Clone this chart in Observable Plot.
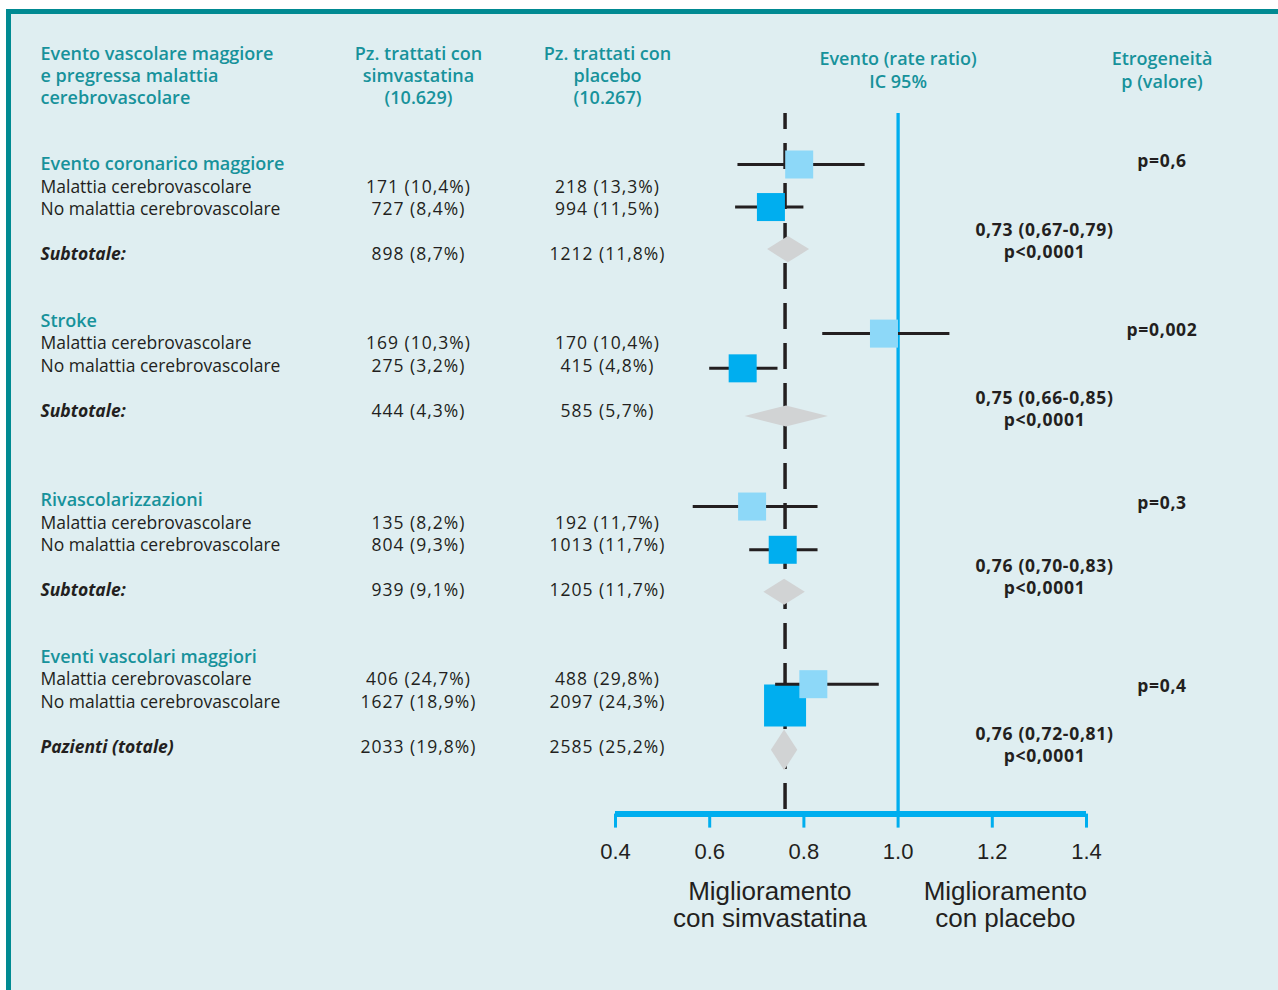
<!DOCTYPE html>
<html>
<head>
<meta charset="utf-8">
<script src="https://cdn.jsdelivr.net/npm/d3@7"></script>
<script src="https://cdn.jsdelivr.net/npm/@observablehq/plot@0.6"></script>
<style>
  html, body { margin: 0; padding: 0; background: #ffffff; }
  #frame { position: absolute; left: 6px; top: 9px; width: 1272px; height: 981px; box-sizing: border-box;
           border-left: 5px solid #008A92; border-top: 5px solid #008A92; background: #DFEEF1; }
  #chart { position: absolute; left: 0; top: 0; }
</style>
</head>
<body>
<div id="frame"></div>
<div id="chart"></div>
<script>
// ---------- DATA ----------
const groups = ["Evento coronarico maggiore", "Stroke", "Rivascolarizzazioni", "Eventi vascolari maggiori"];
const groupRow = [0, 7, 15, 22];
const subgroups = ["Malattia cerebrovascolare", "No malattia cerebrovascolare"];
const totalLabels = ["Subtotale:", "Subtotale:", "Subtotale:", "Pazienti (totale)"];

const simvaN   = [[171, 727, 898], [169, 275, 444], [135, 804, 939], [406, 1627, 2033]];
const simvaPct = [[10.4, 8.4, 8.7], [10.3, 3.2, 4.3], [8.2, 9.3, 9.1], [24.7, 18.9, 19.8]];
const placeboN   = [[218, 994, 1212], [170, 415, 585], [192, 1013, 1205], [488, 2097, 2585]];
const placeboPct = [[13.3, 11.5, 11.8], [10.4, 4.8, 5.7], [11.7, 11.7, 11.7], [29.8, 24.3, 25.2]];

// subgroup rate ratios as drawn (estimate, CI low, CI high), row of marker, relative box weight
const subRR = [[0.79, 0.73], [0.97, 0.67], [0.69, 0.755], [0.82, 0.76]];
const subLo = [[0.66, 0.655], [0.84, 0.60], [0.565, 0.685], [0.74, 0.73]];
const subHi = [[0.93, 0.80], [1.11, 0.745], [0.83, 0.83], [0.96, 0.79]];
const subMarkerRow = [[0, 1.9], [7.55, 9.1], [15.27, 17.2], [23.2, 24.15]];
const subWeight = [[1, 1], [1, 1], [1, 1], [1, 1.5]];

// pooled diamonds as drawn
const pooledRR = [0.767, 0.763, 0.759, 0.759];
const pooledLo = [0.723, 0.675, 0.715, 0.731];
const pooledHi = [0.812, 0.852, 0.803, 0.787];
const pooledRow = [3.8, 11.25, 19.1, 26.15];

// reported statistics
const statRR = [0.73, 0.75, 0.76, 0.76];
const statLo = [0.67, 0.66, 0.70, 0.72];
const statHi = [0.79, 0.85, 0.83, 0.81];
const statP = ["p<0,0001", "p<0,0001", "p<0,0001", "p<0,0001"];
const statRow = [3.39, 10.85, 18.39, 25.85];
const hetP = ["p=0,6", "p=0,002", "p=0,3", "p=0,4"];
const hetRow = [-0.13, 7.41, 15.13, 23.3];

const xTicks = [0.4, 0.6, 0.8, 1.0, 1.2, 1.4];
const overallRR = 0.76;
const axisRow = 29;
const refTopRow = -2.28;

const headers = {
  event: "Evento vascolare maggiore\ne pregressa malattia\ncerebrovascolare",
  simva: "Pz. trattati con\nsimvastatina\n(10.629)",
  placebo: "Pz. trattati con\nplacebo\n(10.267)",
  rr: "Evento (rate ratio)\nIC 95%",
  het: "Etrogeneità\np (valore)"
};
const improveLabels = ["Miglioramento\ncon simvastatina", "Miglioramento\ncon placebo"];

// ---------- STYLE ----------
const teal = "#17929B", ink = "#231F20", blue = "#00AEEF", lightBlue = "#8DD8F8", grey = "#D1D3D4";
const font = "'Open Sans', 'Noto Sans', sans-serif";
const fs = 17.5, fsHead = 18;
const diamondHalf = [0.59, 0.47, 0.58, 0.91];

// ---------- BUILD ----------
const dec = (v, n) => v.toFixed(n).replace(".", ",");
const titleRows = [], subRows = [], totalRows = [], countRows = [], pts = [], diamond = [], stats = [], het = [];
groups.forEach((g, gi) => {
  const r0 = groupRow[gi];
  titleRows.push({row: r0, text: g});
  [r0 + 1, r0 + 2, r0 + 4].forEach((row, k) => {
    if (k < 2) subRows.push({row, text: subgroups[k]});
    else totalRows.push({row, text: totalLabels[gi]});
    countRows.push({
      row,
      simva: `${simvaN[gi][k]} (${dec(simvaPct[gi][k], 1)}%)`,
      placebo: `${placeboN[gi][k]} (${dec(placeboPct[gi][k], 1)}%)`
    });
  });
  subgroups.forEach((s, si) => pts.push({
    s, rr: subRR[gi][si], lo: subLo[gi][si], hi: subHi[gi][si], row: subMarkerRow[gi][si], w: subWeight[gi][si]
  }));
  const h = diamondHalf[gi], row = pooledRow[gi];
  diamond.push({g: gi, x: pooledLo[gi], y1: row, y2: row});
  diamond.push({g: gi, x: pooledRR[gi], y1: row - h, y2: row + h});
  diamond.push({g: gi, x: pooledHi[gi], y1: row, y2: row});
  stats.push({row: statRow[gi], text: `${dec(statRR[gi], 2)} (${dec(statLo[gi], 2)}-${dec(statHi[gi], 2)})\n${statP[gi]}`});
  het.push({row: hetRow[gi], text: hetP[gi]});
});
const darkPts = pts.filter(d => d.s === subgroups[1]);
const lightPts = pts.filter(d => d.s === subgroups[0]);

const W = 1278, H = 990, mL = 615, mR = 192, mT = 52, mB = 176.4;
const txt = {fontFamily: font, fontSize: fs, lineAnchor: "middle"};
const head = {fontFamily: font, fontSize: fsHead, lineAnchor: "middle", fill: teal, fontWeight: 600};

const chart = Plot.plot({
  width: W, height: H,
  marginLeft: mL, marginRight: mR, marginTop: mT, marginBottom: mB,
  style: {background: "transparent", overflow: "visible"},
  x: {domain: [xTicks[0], xTicks[xTicks.length - 1]], label: null},
  y: {domain: [-5, axisRow], reverse: true, axis: null},
  color: {domain: subgroups, range: [lightBlue, blue]},
  r: {type: "linear", domain: [0, 1.5], range: [0, 23.7]},
  marks: [
    // reference lines
    Plot.ruleX([overallRR], {x: d => d, y1: refTopRow, y2: axisRow, stroke: ink, strokeWidth: 3.5, strokeDasharray: "26,14", strokeDashoffset: 10}),
    Plot.ruleX([1], {x: d => d, y1: refTopRow, y2: axisRow, stroke: blue, strokeWidth: 3.3}),
    // axis
    Plot.ruleY([axisRow], {y: d => d, x1: xTicks[0], x2: xTicks[xTicks.length - 1], stroke: blue, strokeWidth: 6}),
    Plot.axisX({ticks: xTicks, tickFormat: d3.format(".1f"), tickSize: 14, tickPadding: 15, stroke: blue, strokeWidth: 3,
      fill: ink, fontSize: 22, fontFamily: "'Liberation Sans', Arial, sans-serif", label: null}),
    // subgroup estimates
    Plot.ruleY(darkPts, {y: "row", x1: "lo", x2: "hi", stroke: ink, strokeWidth: 3}),
    Plot.dot(darkPts, {x: "rr", y: "row", r: "w", fill: "s", symbol: "square", sort: null}),
    Plot.ruleY(lightPts, {y: "row", x1: "lo", x2: "hi", stroke: ink, strokeWidth: 3}),
    Plot.dot(lightPts, {x: "rr", y: "row", r: "w", fill: "s", symbol: "square", sort: null}),
    // pooled diamonds
    Plot.areaY(diamond, {x: "x", y1: "y1", y2: "y2", z: "g", fill: grey, curve: "linear"}),
    // headers
    Plot.text([headers.event], {...head, text: d => d, frameAnchor: "left", dx: 40 - mL, y: -4, textAnchor: "start", lineHeight: 22.4 / fsHead}),
    Plot.text([headers.simva], {...head, text: d => d, frameAnchor: "left", dx: 418 - mL, y: -4, textAnchor: "middle", lineHeight: 22.4 / fsHead}),
    Plot.text([headers.placebo], {...head, text: d => d, frameAnchor: "left", dx: 607 - mL, y: -4, textAnchor: "middle", lineHeight: 22.4 / fsHead}),
    Plot.text([headers.rr], {...head, text: d => d, x: 1, y: -4.26, textAnchor: "middle", lineHeight: 23 / fsHead}),
    Plot.text([headers.het], {...head, text: d => d, frameAnchor: "right", dx: 1161.5 - (W - mR), y: -4.26, textAnchor: "middle", lineHeight: 23 / fsHead}),
    // label column
    Plot.text(titleRows, {...head, text: "text", y: "row", frameAnchor: "left", dx: 40 - mL, textAnchor: "start"}),
    Plot.text(subRows, {...txt, text: "text", y: "row", frameAnchor: "left", dx: 40 - mL, textAnchor: "start", fill: ink}),
    Plot.text(totalRows, {...txt, text: "text", y: "row", frameAnchor: "left", dx: 40 - mL, textAnchor: "start", fill: ink, fontWeight: 700, fontStyle: "italic"}),
    // counts
    Plot.text(countRows, {...txt, text: "simva", y: "row", frameAnchor: "left", dx: 418 - mL, textAnchor: "middle", fill: ink}),
    Plot.text(countRows, {...txt, text: "placebo", y: "row", frameAnchor: "left", dx: 607 - mL, textAnchor: "middle", fill: ink}),
    // statistics
    Plot.text(stats, {...txt, text: "text", y: "row", frameAnchor: "right", dx: 1044 - (W - mR), textAnchor: "middle", lineHeight: 22 / fs, fill: ink, fontWeight: 700}),
    Plot.text(het, {...txt, text: "text", y: "row", frameAnchor: "right", dx: 1161.5 - (W - mR), textAnchor: "middle", fill: ink, fontWeight: 700}),
    // direction labels
    Plot.text(improveLabels, {text: d => d,
      x: (d, i) => i === 0 ? d3.mean([xTicks[0], 1]) : d3.mean([1, xTicks[xTicks.length - 1]]),
      frameAnchor: "bottom", dx: 13, dy: 91, lineAnchor: "middle", lineHeight: 27 / 26,
      fontSize: 26, fontFamily: "'Liberation Sans', Arial, sans-serif", fill: ink})
  ]
});

// wider tracking for the numeric columns (the original typeface has wide figures)
d3.select(chart).selectAll("text").each(function () {
  const t = this.textContent;
  if (/^\d+ \(\d/.test(t)) this.style.letterSpacing = "1px";
  else if (/^0,\d\d \(/.test(t) || /^p=/.test(t)) this.style.letterSpacing = "0.7px";
});
document.getElementById("chart").appendChild(chart);
</script>
</body>
</html>
